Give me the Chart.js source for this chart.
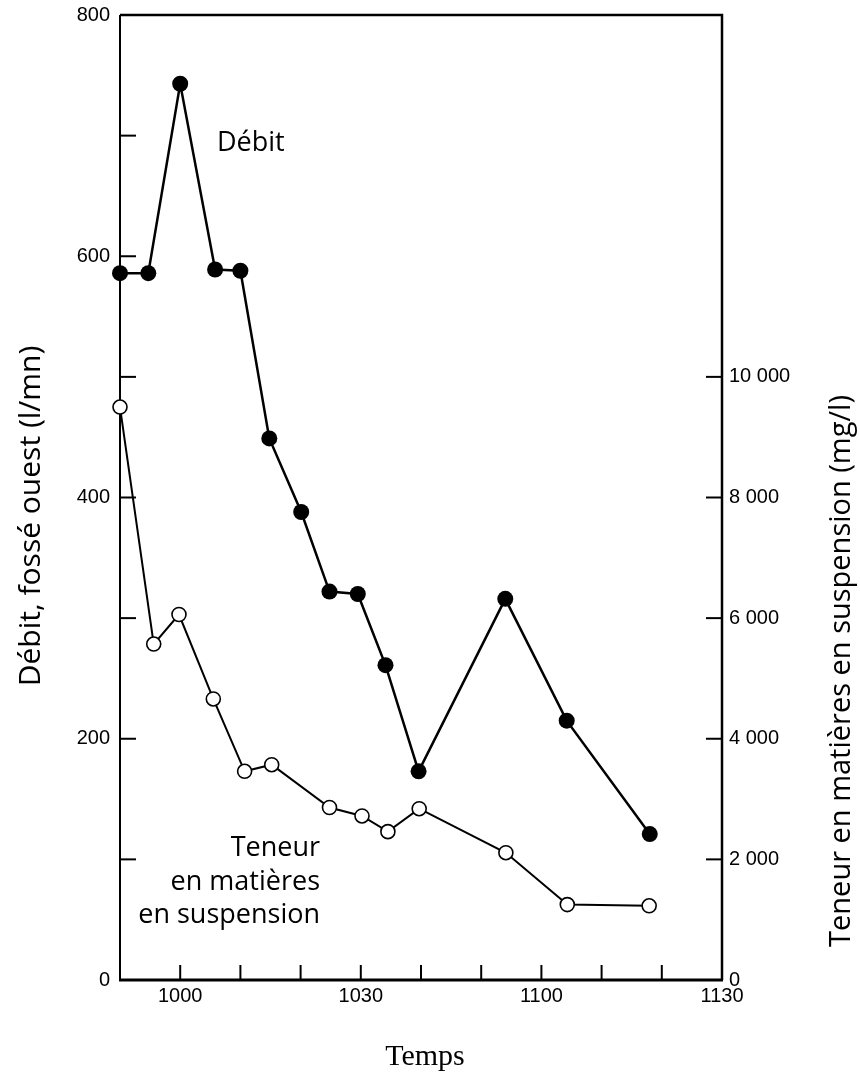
<!DOCTYPE html>
<html>
<head>
<meta charset="utf-8">
<script src="https://cdn.jsdelivr.net/npm/chart.js@4/dist/chart.umd.min.js"></script>
<style>
  html, body { margin: 0; padding: 0; background: #fff; }
  #wrap { width: 860px; height: 1074px; }
</style>
</head>
<body>
<div id="wrap"><canvas id="chart" width="860" height="1074"></canvas></div>
<script>
// time read as minutes after midnight (590 = 9h50, 690 = 11h30)
const debitTimes = [590, 594.7, 600, 605.8, 610, 614.8, 620.1, 624.8, 629.5, 634.1, 639.6, 654, 664.2, 678];
const debitValues = [586, 586, 743, 589, 588, 449, 388, 322, 320, 261, 173, 316, 215, 121];
const teneurTimes = [590, 595.6, 599.8, 605.5, 610.7, 615.2, 624.8, 630.2, 634.5, 639.7, 654.1, 664.3, 677.9];
const teneurValues = [9500, 5570, 6060, 4660, 3460, 3570, 2860, 2720, 2460, 2840, 2110, 1250, 1230];
const timeLabels = { 600: '1000', 630: '1030', 660: '1100', 690: '1130' };
const debitLabels = [0, 200, 400, 600, 800];
const teneurLabels = [0, 2000, 4000, 6000, 8000, 10000];

const tickFont = { family: 'Liberation Sans', size: 20 };
const textFont = '"Open Sans", sans-serif';

function fmtThousands(v) {
  return String(v).replace(/\B(?=(\d{3})+(?!\d))/g, ' ');
}

// frame + inward tick marks, drawn from the scales
const framePlugin = {
  id: 'frame',
  beforeDatasetsDraw(chart) {
    const { ctx, chartArea: a, scales } = chart;
    ctx.save();
    ctx.strokeStyle = '#000';
    ctx.lineCap = 'butt';
    ctx.lineWidth = 2;
    scales.yL.ticks.forEach(t => {
      if (t.value <= 0 || t.value >= 800) return;
      const y = scales.yL.getPixelForValue(t.value);
      ctx.beginPath(); ctx.moveTo(a.left, y); ctx.lineTo(a.left + 16, y); ctx.stroke();
    });
    teneurLabels.forEach(v => {
      if (v === 0) return;
      const y = scales.yR.getPixelForValue(v);
      ctx.beginPath(); ctx.moveTo(a.right, y); ctx.lineTo(a.right - 16, y); ctx.stroke();
    });
    scales.x.ticks.forEach(t => {
      if (t.value <= 590 || t.value >= 690) return;
      const x = scales.x.getPixelForValue(t.value);
      ctx.beginPath(); ctx.moveTo(x, a.bottom); ctx.lineTo(x, a.bottom - 15); ctx.stroke();
    });
    ctx.lineWidth = 2.5;
    ctx.beginPath();
    ctx.moveTo(a.left, a.top); ctx.lineTo(a.right, a.top); ctx.lineTo(a.right, a.bottom);
    ctx.stroke();
    ctx.lineWidth = 2;
    ctx.beginPath(); ctx.moveTo(a.left, a.top); ctx.lineTo(a.left, a.bottom); ctx.stroke();
    ctx.lineWidth = 3;
    ctx.beginPath(); ctx.moveTo(a.left - 1, a.bottom); ctx.lineTo(a.right + 1, a.bottom); ctx.stroke();
    ctx.restore();
  },
  afterDraw(chart) {
    const { ctx } = chart;
    ctx.save();
    ctx.fillStyle = '#000';
    ctx.textBaseline = 'middle';
    ctx.font = '27px ' + textFont;
    ctx.textAlign = 'left';
    ctx.fillText('Débit', 217, 143);
    ctx.textAlign = 'right';
    ctx.fillText('Teneur', 320, 848);
    ctx.fillText('en matières', 320, 882);
    ctx.fillText('en suspension', 320, 915);

    ctx.textAlign = 'center';
    ctx.font = '30px "Liberation Serif", serif';
    ctx.fillText('Temps', 425, 1057);

    ctx.font = '30px ' + textFont;
    ctx.translate(31, 516);
    ctx.rotate(-Math.PI / 2);
    ctx.fillText('Débit, fossé ouest (l/mn)', 0, 0);
    ctx.setTransform(1, 0, 0, 1, 0, 0);
    ctx.font = '29px ' + textFont;
    ctx.translate(842, 671);
    ctx.rotate(-Math.PI / 2);
    ctx.fillText('Teneur en matières en suspension (mg/l)', 0, 0);
    ctx.restore();
  }
};

function fixY(width) {
  return s => { s.width = width; s.paddingTop = 0; s.paddingBottom = 0; };
}

const ctx = document.getElementById('chart').getContext('2d');
const chart = new Chart(ctx, {
  type: 'line',
  data: {
    datasets: [
      {
        label: 'Débit',
        data: debitTimes.map((t, i) => ({ x: t, y: debitValues[i] })),
        yAxisID: 'yL',
        borderColor: '#000',
        borderWidth: 2.5,
        pointRadius: 8,
        pointBackgroundColor: '#000',
        pointBorderColor: '#000',
        pointBorderWidth: 0,
        tension: 0,
        clip: false
      },
      {
        label: 'Teneur en matières en suspension',
        data: teneurTimes.map((t, i) => ({ x: t, y: teneurValues[i] })),
        yAxisID: 'yR',
        borderColor: '#000',
        borderWidth: 2,
        pointRadius: 7,
        pointBackgroundColor: '#fff',
        pointBorderColor: '#000',
        pointBorderWidth: 1.6,
        tension: 0,
        clip: false
      }
    ]
  },
  options: {
    responsive: false,
    animation: false,
    devicePixelRatio: 1,
    layout: { padding: { top: 15, left: 0, right: 0, bottom: 0 } },
    plugins: { legend: { display: false }, tooltip: { enabled: false } },
    scales: {
      x: {
        type: 'linear',
        position: 'bottom',
        min: 590,
        max: 690,
        afterFit: s => { s.height = 94; },
        grid: { display: false, drawTicks: false },
        border: { display: false },
        ticks: {
          stepSize: 10,
          autoSkip: false,
          maxRotation: 0,
          padding: 4,
          color: '#000',
          font: tickFont,
          callback: v => timeLabels[v] || ''
        }
      },
      yL: {
        type: 'linear',
        position: 'left',
        min: 0,
        max: 800,
        afterFit: fixY(120),
        grid: { display: false, drawTicks: false },
        border: { display: false },
        ticks: {
          stepSize: 100,
          autoSkip: false,
          padding: 10,
          color: '#000',
          font: tickFont,
          callback: v => debitLabels.includes(v) ? String(v) : ''
        }
      },
      yR: {
        type: 'linear',
        position: 'right',
        min: 0,
        max: 16000,
        afterFit: fixY(138),
        grid: { display: false, drawTicks: false },
        border: { display: false },
        ticks: {
          stepSize: 2000,
          autoSkip: false,
          padding: 7,
          color: '#000',
          font: tickFont,
          callback: v => teneurLabels.includes(v) ? fmtThousands(v) : ''
        }
      }
    }
  },
  plugins: [framePlugin]
});
</script>
</body>
</html>
